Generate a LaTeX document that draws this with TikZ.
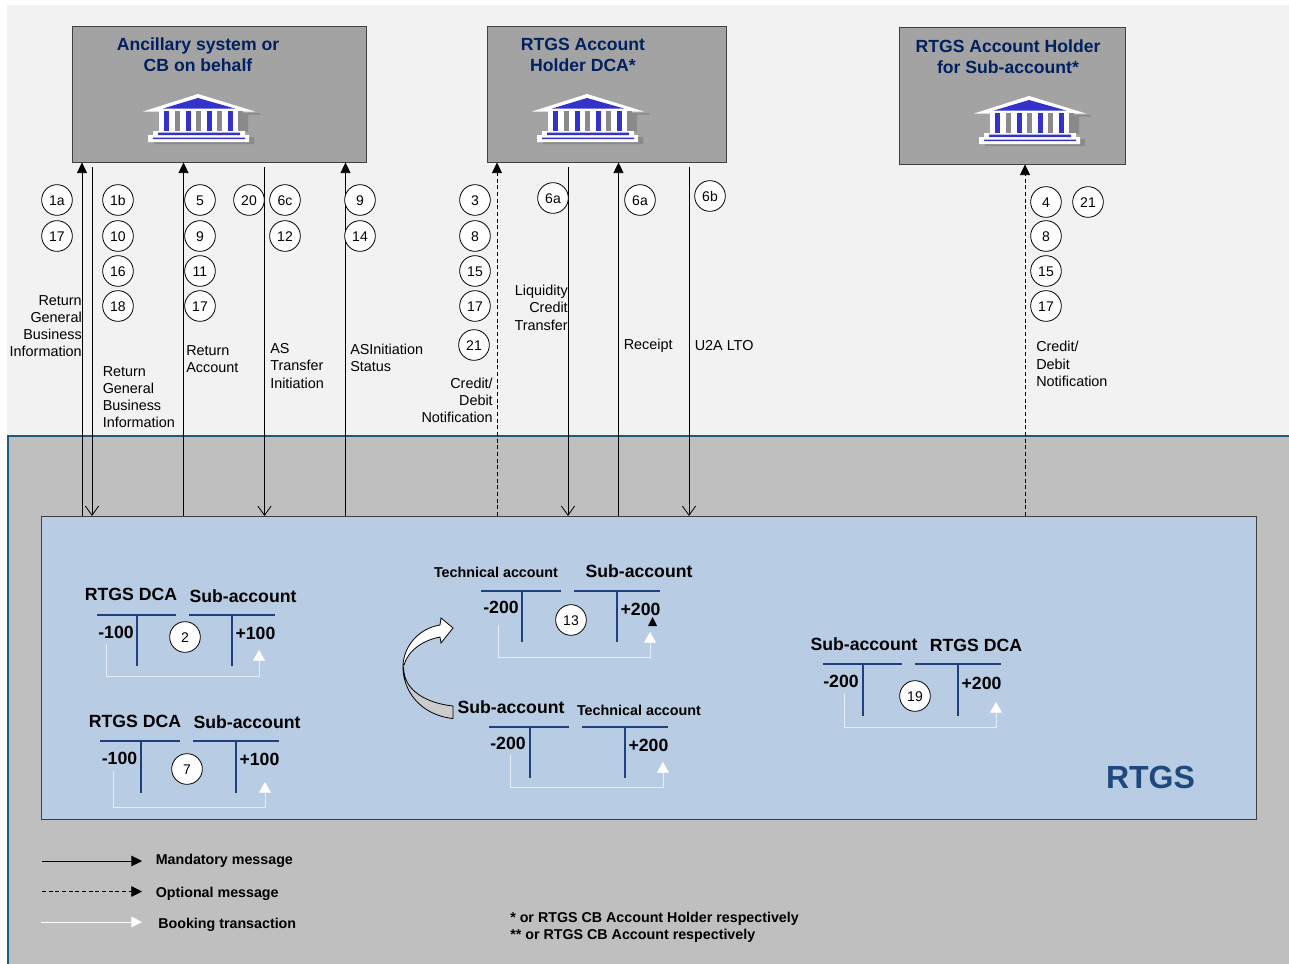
\documentclass[tikz,border=0pt]{standalone}
\usepackage{fontspec}
\setmainfont{Liberation Sans}
\usetikzlibrary{arrows.meta}
\definecolor{bgtop}{HTML}{F2F2F2}
\definecolor{bgrtgs}{HTML}{BFBFBF}
\definecolor{edgeblue}{HTML}{1F5A7A}
\definecolor{boxgrey}{HTML}{A3A3A3}
\definecolor{paleblue}{HTML}{B8CCE4}
\definecolor{navy}{HTML}{002060}
\definecolor{tline}{HTML}{1F3F7F}
\definecolor{rtgsblue}{HTML}{1F497D}
\definecolor{templeblue}{HTML}{3333CC}
\definecolor{templeshadow}{HTML}{8A8A8A}
\definecolor{ribbon}{HTML}{CCCCCC}
\tikzset{
  x=0.75pt,y=-0.75pt,
  party/.style={draw=black!75,line width=0.7pt,fill=boxgrey,inner sep=0pt},
  title/.style={align=center,text=navy,inner sep=0pt,font=\fontsize{13.2}{15.75}\selectfont\bfseries},
  num/.style={circle,draw=black,fill=white,line width=0.6pt,minimum size=23pt,inner sep=0pt,text height=8.5pt,text depth=0pt,font=\fontsize{10.5}{12}\selectfont},
  lab/.style={inner sep=0pt,font=\fontsize{10.8}{12.9}\selectfont},
  labl/.style={lab,align=left,anchor=west},
  labr/.style={lab,align=right,anchor=east},
  acct/.style={inner sep=0pt,font=\fontsize{13.25}{15}\selectfont\bfseries},
  acctsm/.style={inner sep=0pt,font=\fontsize{10.75}{12}\selectfont\bfseries},
  leg/.style={inner sep=0pt,anchor=west,font=\fontsize{10.7}{12.75}\selectfont\bfseries},
  upmsg/.style={draw=black,line width=0.6pt,-{Triangle[length=8pt,width=7.5pt]}},
  optmsg/.style={upmsg,dash pattern=on 3pt off 2pt},
  downmsg/.style={draw=black,line width=0.6pt,-{Straight Barb[length=7pt,width=10pt,line width=0.6pt]}},
  tbar/.style={draw=tline,line width=0.8pt},
  booking/.style={draw=white!65!paleblue,line width=0.6pt,-{Triangle[length=8pt,width=9pt,fill=white,color=white]}},
}
\newcommand{\temple}[2]{%
  \begin{scope}[shift={(#1,#2)}]
    \fill[templeshadow] (-39,19) rectangle (62,20.5) (-39,19) rectangle (50,38) (-44,43) rectangle (56,50);
    \fill[white] (-55,17.5) -- (0,0) -- (57,17.5) -- cycle;
    \fill[templeblue] (-35,14.5) -- (0,4) -- (37,14.5) -- cycle;
    \fill[white] (-39,17) rectangle (45,38);
    \foreach \q in {-33.7,-12.3,9,30.4} \fill[templeblue] (\q,17) rectangle (\q+5,37);
    \foreach \q in {-23,-2,19.3,40} \fill[templeshadow] (\q,17) rectangle (\q+5,37);
    \fill[white] (-45,37) rectangle (47,43) (-50,41) rectangle (51,48);
    \fill[templeblue] (-40,38.5) rectangle (42,41) (-45,43.5) rectangle (47,45);
  \end{scope}}
\newcommand{\taccount}[8]{% left1 right1 vert1 left2 right2 vert2 top bottom
  \draw[tbar] (#1,#7) -- (#2,#7);
  \draw[tbar] (#3,#7) -- (#3,#8);
  \draw[tbar] (#4,#7) -- (#5,#7);
  \draw[tbar] (#6,#7) -- (#6,#8);}
\begin{document}
\begin{tikzpicture}
\useasboundingbox (0,0) rectangle (1289,964);
\fill[white] (0,0) rectangle (1289,964);
\fill[bgtop] (7,5) rectangle (1289,436);
\fill[bgrtgs] (8,436) rectangle (1289,964);
\draw[edgeblue,line width=0.8pt] (8,964) -- (8,436) -- (1289,436);

% parties
\node[party,minimum width=220.5pt,minimum height=102pt,anchor=north west] (as) at (71.5,25.5) {};
\node[party,minimum width=179.25pt,minimum height=102pt,anchor=north west] (dca) at (486.5,25.5) {};
\node[party,minimum width=169.5pt,minimum height=102.75pt,anchor=north west] (sub) at (898.5,26.5) {};
\node[title] (astitle) at (198,54.5) {Ancillary system or\\CB on behalf};
\node[title] (dcatitle) at (583,54.5) {RTGS Account\\Holder DCA*};
\node[title] (subtitle) at (1008,56.5) {RTGS Account Holder\\for Sub-account*};
\temple{198}{94}
\temple{587}{94}
\temple{1029}{96}

% RTGS
\node[draw=black!75,line width=0.7pt,fill=paleblue,inner sep=0pt,minimum width=911.25pt,minimum height=227.5pt,anchor=north west] (rtgs) at (41,516) {};
\node[inner sep=0pt,text=rtgsblue,font=\fontsize{24}{28}\selectfont\bfseries] (rtgsname) at (1150.5,777) {RTGS};

% connector columns
\coordinate (c1) at (82,300);
\coordinate (c3) at (183.5,300);
\coordinate (c5) at (345.5,300);
\coordinate (c6) at (497,300);
\coordinate (c8) at (618.5,300);
\coordinate (c10) at (1025,300);
\coordinate (s1) at (92,167);
\coordinate (s2) at (264.5,167);
\coordinate (s3) at (568,167);
\coordinate (s4) at (689,167);
\draw[upmsg] (rtgs.north -| c1) -- (as.south -| c1);
\draw[downmsg] (s1) -- (rtgs.north -| s1);
\draw[upmsg] (rtgs.north -| c3) -- (as.south -| c3);
\draw[downmsg] (s2) -- (rtgs.north -| s2);
\draw[upmsg] (rtgs.north -| c5) -- (as.south -| c5);
\draw[optmsg] (rtgs.north -| c6) -- (dca.south -| c6);
\draw[downmsg] (s3) -- (rtgs.north -| s3);
\draw[upmsg] (rtgs.north -| c8) -- (dca.south -| c8);
\draw[downmsg] (s4) -- (rtgs.north -| s4);
\draw[optmsg] (rtgs.north -| c10) -- (sub.south -| c10);

% numbered circles
\node[num] (n1a) at (57,200) {1a};
\node[num] (n17a) at (57,236) {17};
\node[num] (n1b) at (118,200) {1b};
\node[num] (n10) at (118,236) {10};
\node[num] (n16) at (118,271) {16};
\node[num] (n18) at (118,306) {18};
\node[num] (n5) at (200,200) {5};
\node[num] (n9a) at (200,236) {9};
\node[num] (n11) at (200,271) {11};
\node[num] (n17b) at (200,306) {17};
\node[num] (n20) at (249,200) {20};
\node[num] (n6c) at (285,200) {6c};
\node[num] (n12) at (285,236) {12};
\node[num] (n9b) at (360,200) {9};
\node[num] (n14) at (360,236) {14};
\node[num] (n3) at (475,200) {3};
\node[num] (n8a) at (475,236) {8};
\node[num] (n15a) at (475,271) {15};
\node[num] (n17c) at (475,306) {17};
\node[num] (n21a) at (474,345) {21};
\node[num] (n6aa) at (553,198) {6a};
\node[num] (n6ab) at (640,200) {6a};
\node[num] (n6b) at (710,196) {6b};
\node[num] (n4) at (1046,202) {4};
\node[num] (n21b) at (1088,202) {21};
\node[num] (n8b) at (1046,236) {8};
\node[num] (n15b) at (1046,271) {15};
\node[num] (n17d) at (1046,306) {17};

% message labels
\node[labr] (l1) at (82,326.3) {Return\\General\\Business\\Information};
\node[labl] (l2) at (102.5,397.3) {Return\\General\\Business\\Information};
\node[labl] (l3) at (186,359.3) {Return\\Account};
\node[labl] (l4) at (270,366) {AS\\Transfer\\Initiation};
\node[labl] (l5) at (350,358) {ASInitiation\\Status};
\node[labr] (l6) at (493,400.5) {Credit/\\Debit\\Notification};
\node[labr] (l7) at (568,307.7) {Liquidity\\Credit\\Transfer};
\node[labl] (l8) at (623.5,345.5) {Receipt};
\node[labl] (l9) at (694.5,345.5) {U2A LTO};
\node[labl] (l10) at (1036,364) {Credit/\\Debit\\Notification};

% account 2
\node[acct] (a2l) at (131,594) {RTGS DCA};
\node[acct] (a2r) at (243,596) {Sub-account};
\taccount{97}{176}{137}{189}{275}{232}{615}{666}
\node[acct] (a2m) at (116,632) {-100};
\node[acct] (a2p) at (255.5,633) {+100};
\node[num] (n2) at (185,637) {2};
\coordinate (b2a) at (106,644);
\coordinate (b2b) at (259,676);
\coordinate (b2c) at (259,650);
\draw[booking] (b2a) |- (b2b) -- (b2c);

% account 7
\node[acct] (a7l) at (135,721) {RTGS DCA};
\node[acct] (a7r) at (247,722) {Sub-account};
\taccount{100}{180}{141}{193}{279}{236}{741}{793}
\node[acct] (a7m) at (119.5,758) {-100};
\node[acct] (a7p) at (259.5,759) {+100};
\node[num] (n7) at (187,769) {7};
\coordinate (b7a) at (113,771);
\coordinate (b7b) at (265,807);
\coordinate (b7c) at (265,782);
\draw[booking] (b7a) |- (b7b) -- (b7c);

% account 13
\node[acctsm] (a13l) at (496,572) {Technical account};
\node[acct] (a13r) at (639,571) {Sub-account};
\taccount{481}{561}{522}{574}{660}{617}{591}{642}
\node[acct] (a13m) at (501,607) {-200};
\node[acct] (a13p) at (640.5,609) {+200};
\node[num] (n13) at (571,620) {13};
\coordinate (b13a) at (498,625);
\coordinate (b13b) at (650,657);
\coordinate (b13c) at (650,632);
\draw[booking] (b13a) |- (b13b) -- (b13c);
\fill[black] (648,626) -- (652.5,617) -- (657,626) -- cycle;

% account lower middle
\node[acct] (a14l) at (511,707) {Sub-account};
\node[acctsm] (a14r) at (639,710) {Technical account};
\taccount{489}{569}{530}{582}{668}{625}{727}{778}
\node[acct] (a14m) at (508,743) {-200};
\node[acct] (a14p) at (648.5,745) {+200};
\coordinate (b14a) at (510,755);
\coordinate (b14b) at (663,787);
\coordinate (b14c) at (663,762);
\draw[booking] (b14a) |- (b14b) -- (b14c);

% account 19
\node[acct] (a19l) at (864,644) {Sub-account};
\node[acct] (a19r) at (976,645) {RTGS DCA};
\taccount{823}{902}{863}{915}{1001}{958}{664}{716}
\node[acct] (a19m) at (841,681) {-200};
\node[acct] (a19p) at (981.5,683) {+200};
\node[num] (n19) at (915,696) {19};
\coordinate (b19a) at (844,694);
\coordinate (b19b) at (996,727);
\coordinate (b19c) at (996,702);
\draw[booking] (b19a) |- (b19b) -- (b19c);

% curved ribbon arrow
\draw[black,fill=ribbon,line width=0.6pt] (403,665) .. controls (402,690) and (420,715) .. (453,718.5) -- (453,706) .. controls (425,703) and (406,690) .. (404,672) -- cycle;
\draw[black,fill=white,line width=0.6pt] (403,665) .. controls (404,645) and (420,628) .. (440,625) -- (441,618) -- (453,628) -- (441,643) -- (440,637) .. controls (424,640) and (408,650) .. (404,665) -- cycle;

% legend
\coordinate (m1) at (42,861);
\coordinate (m2) at (142,861);
\coordinate (o1) at (42,891.5);
\coordinate (o2) at (142,891.5);
\coordinate (t1) at (41,922);
\coordinate (t2) at (142,922);
\draw[draw=black,line width=0.7pt,-{Triangle[length=8pt,width=8pt]}] (m1) -- (m2);
\draw[draw=black,line width=0.6pt,dash pattern=on 3pt off 2pt,-{Triangle[length=8pt,width=8pt]}] (o1) -- (o2);
\draw[draw=white,line width=0.7pt,-{Triangle[length=8pt,width=8pt,fill=white,color=white]}] (t1) -- (t2);
\node[leg] (lg1) at (155.5,861) {Mandatory message};
\node[leg] (lg2) at (155.5,894) {Optional message};
\node[leg] (lg3) at (158,925) {Booking transaction};
\node[leg,align=left] (fn) at (510,927.5) {* or RTGS CB Account Holder respectively\\** or RTGS CB Account respectively};
\end{tikzpicture}
\end{document}
